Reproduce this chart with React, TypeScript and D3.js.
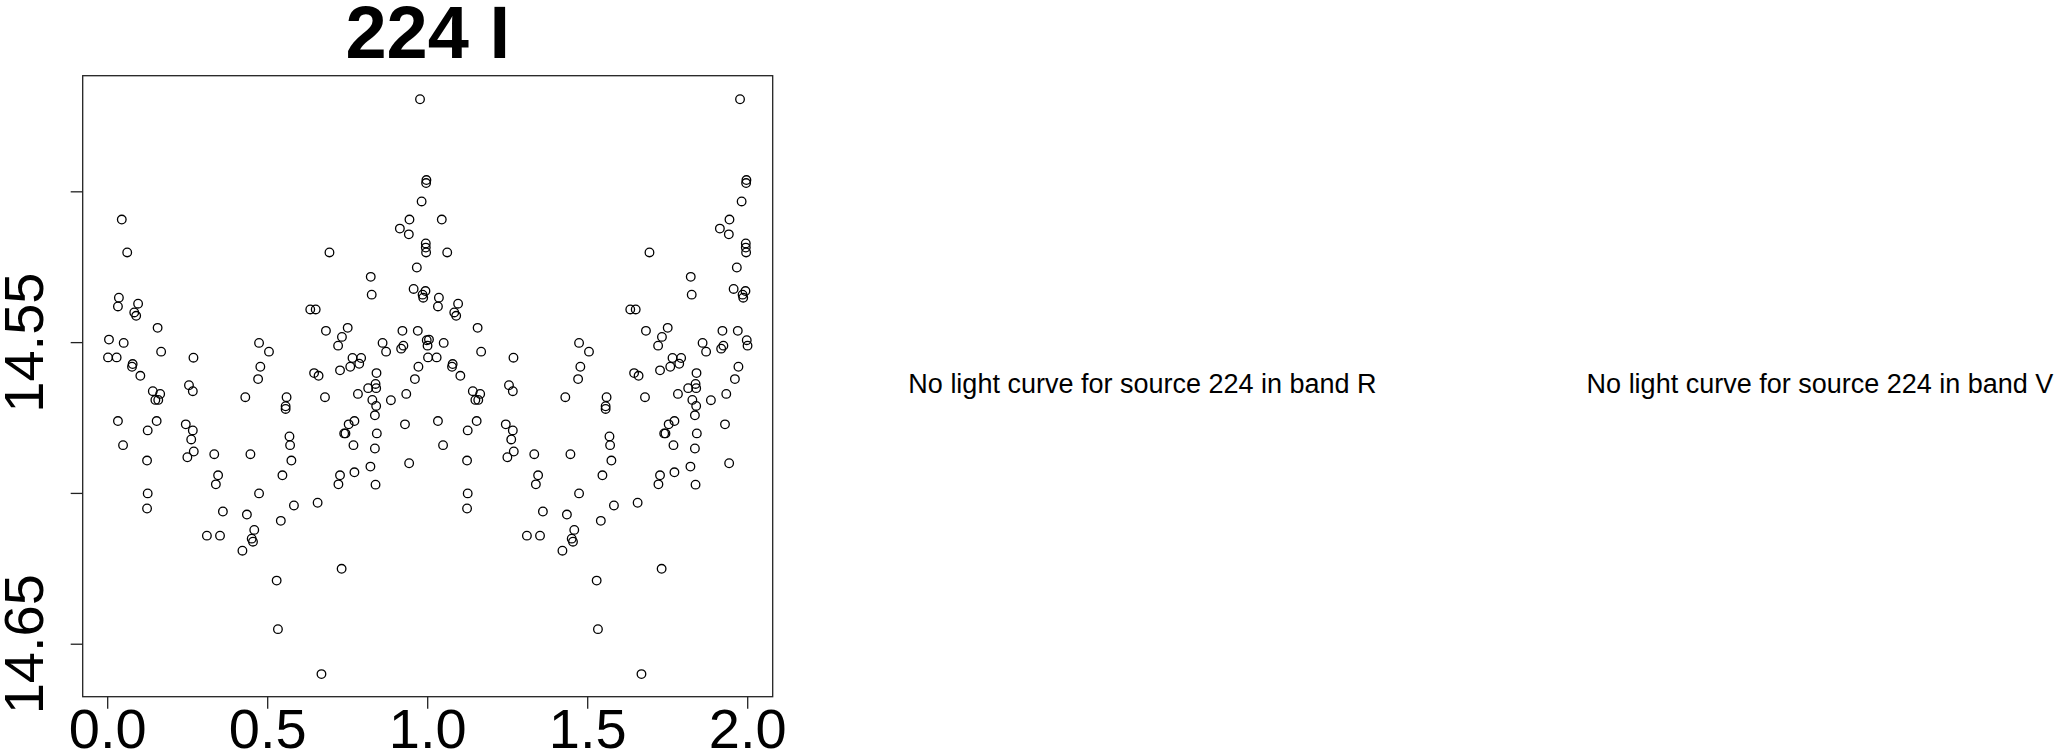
import React from "react";
import * as d3 from "d3";

// Phase-folded I-band light curve of source 224 (phase in [0,1), I magnitude)
const phaseI: number[] = [
  0.004, 0.001, 0.028, 0.050, 0.044, 0.061, 0.035, 0.032, 0.095, 0.083,
  0.089, 0.156, 0.167, 0.078, 0.076, 0.102, 0.141, 0.149, 0.158, 0.164,
  0.254, 0.266, 0.268, 0.430, 0.473, 0.504, 0.477, 0.470, 0.559, 0.556,
  0.556, 0.633, 0.650, 0.693, 0.682, 0.732, 0.750, 0.720, 0.822, 0.825,
  0.645, 0.659, 0.679, 0.726, 0.765, 0.792, 0.758, 0.786, 0.859, 0.870,
  0.840, 0.814, 0.837, 0.839, 0.782, 0.827, 0.839, 0.885, 0.976, 0.996,
  0.995, 0.981, 0.943, 0.913, 0.941, 0.994, 0.994, 0.995, 0.966, 0.956,
  0.993, 0.984, 0.986, 0.921, 0.969, 0.917, 0.924, 0.997, 0.9995, 0.971,
  0.960, 0.933,
  0.032, 0.048, 0.125, 0.153, 0.123, 0.125, 0.123, 0.244, 0.266, 0.261,
  0.269, 0.249, 0.333, 0.345, 0.338, 0.360, 0.310, 0.351, 0.446, 0.473,
  0.435, 0.458, 0.450, 0.454, 0.421, 0.568, 0.570, 0.574, 0.546, 0.582,
  0.541, 0.528, 0.532, 0.656, 0.668, 0.731, 0.726, 0.721, 0.739, 0.743,
  0.753, 0.771, 0.768, 0.771, 0.835, 0.841, 0.835, 0.821, 0.837, 0.929,
  0.942,
];

const magI: number[] = [
  14.5490, 14.5549, 14.5549, 14.5501, 14.5092, 14.5201, 14.5351, 14.5380, 14.5371, 14.5400,
  14.5411, 14.5451, 14.5530, 14.5571, 14.5580, 14.5610, 14.5661, 14.5690, 14.5690, 14.5670,
  14.5641, 14.5661, 14.5550, 14.5681, 14.5501, 14.5530, 14.5580, 14.5621, 14.5681, 14.5711,
  14.5720, 14.5390, 14.5390, 14.5201, 14.5461, 14.5481, 14.5451, 14.5510, 14.5282, 14.5341,
  14.5601, 14.5610, 14.5681, 14.5592, 14.5551, 14.5551, 14.5580, 14.5570, 14.5501, 14.5530,
  14.5601, 14.5651, 14.5637, 14.5651, 14.5670, 14.5690, 14.5710, 14.5691, 14.4693, 14.4961,
  14.4971, 14.5032, 14.5092, 14.5122, 14.5141, 14.5171, 14.5185, 14.5201, 14.5251, 14.5322,
  14.5329, 14.5341, 14.5351, 14.5461, 14.5461, 14.5520, 14.5510, 14.5492, 14.5510, 14.5580,
  14.5621, 14.5670,
  14.5760, 14.5840, 14.5791, 14.5760, 14.5891, 14.6000, 14.6050, 14.5771, 14.5791, 14.5821,
  14.5861, 14.5880, 14.5870, 14.5940, 14.5970, 14.6060, 14.6140, 14.6140, 14.5870, 14.6000,
  14.6070, 14.6121, 14.6150, 14.6160, 14.6190, 14.5811, 14.5840, 14.5891, 14.5940, 14.6040,
  14.6091, 14.6289, 14.6450, 14.6031, 14.6599, 14.6250, 14.5940, 14.5970, 14.5801, 14.5801,
  14.5771, 14.5760, 14.5840, 14.5930, 14.5741, 14.5801, 14.5851, 14.5911, 14.5971, 14.5771,
  14.5900,
];

const xTicks: number[] = [0, 0.5, 1, 1.5, 2];
const xTickLabels: string[] = ["0.0", "0.5", "1.0", "1.5", "2.0"];
const yTicks: number[] = [14.5, 14.55, 14.6, 14.65];
const yTickLabels: string[] = ["", "14.55", "", "14.65"];

const titleText = "224 I";
const missingBands: string[] = ["R", "V"];
const sourceId = "224";

const W = 2058;
const H = 754;
const FONT = "'Liberation Sans', Arial, Helvetica, sans-serif";

export default function App() {
  const box = { left: 82.7, right: 772.7, top: 75.7, bottom: 696.7 };
  const x = d3.scaleLinear().domain([-0.0781, 2.0781]).range([box.left, box.right]);
  const y = d3.scaleLinear().domain([14.4615, 14.6674]).range([box.top, box.bottom]);

  const pts: { px: number; m: number }[] = [];
  phaseI.forEach((p, i) => pts.push({ px: p, m: magI[i] }));
  phaseI.forEach((p, i) => pts.push({ px: p + 1, m: magI[i] }));

  const msgCenters = [1142.5, 1820];

  return (
    <svg
      width={W}
      height={H}
      style={{ position: "absolute", left: 0, top: 0, background: "#fff" }}
      fontFamily={FONT}
    >
      <rect x={0} y={0} width={W} height={H} fill="#fff" />
      <text
        x={(box.left + box.right) / 2}
        y={58}
        textAnchor="middle"
        fontWeight="bold"
        fontSize={74}
        fill="#000"
      >
        {titleText}
      </text>
      <rect
        x={box.left}
        y={box.top}
        width={box.right - box.left}
        height={box.bottom - box.top}
        fill="none"
        stroke="#222"
        strokeWidth={1.3}
      />
      {xTicks.map((t, i) => (
        <g key={"xt" + i}>
          <line x1={x(t)} x2={x(t)} y1={box.bottom} y2={box.bottom + 12} stroke="#222" strokeWidth={1.3} />
          <text x={x(t)} y={748} textAnchor="middle" fontSize={56} fill="#000">
            {xTickLabels[i]}
          </text>
        </g>
      ))}
      {yTicks.map((t, i) => (
        <g key={"yt" + i}>
          <line x1={box.left - 12} x2={box.left} y1={y(t)} y2={y(t)} stroke="#222" strokeWidth={1.3} />
          {yTickLabels[i] && (
            <text
              transform={`translate(43,${y(t)}) rotate(-90)`}
              textAnchor="middle"
              fontSize={56}
              fill="#000"
            >
              {yTickLabels[i]}
            </text>
          )}
        </g>
      ))}
      {pts.map((d, i) => (
        <circle
          key={"p" + i}
          cx={x(d.px)}
          cy={y(d.m)}
          r={4.3}
          fill="none"
          stroke="#000"
          strokeWidth={1.3}
        />
      ))}
      {missingBands.map((b, i) => (
        <text key={"m" + b} x={msgCenters[i]} y={393} textAnchor="middle" fontSize={27} fill="#000">
          {`No light curve for source ${sourceId} in band ${b}`}
        </text>
      ))}
    </svg>
  );
}
